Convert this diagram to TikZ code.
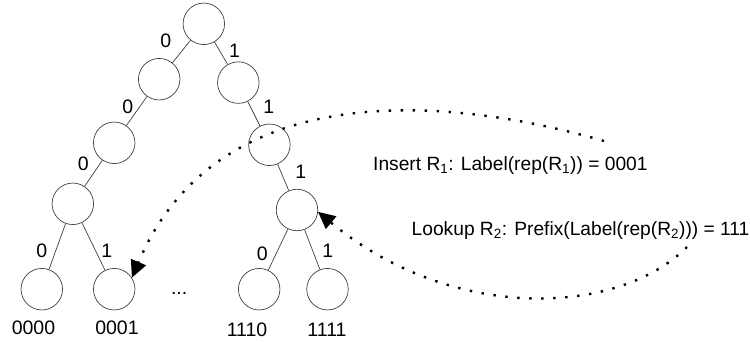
\documentclass[tikz,border=0pt]{standalone}
\usepackage{fontspec}
\setmainfont{Liberation Sans}
\usetikzlibrary{arrows.meta}
\begin{document}
\begin{tikzpicture}[x=1pt,y=-1pt,
  vnode/.style={circle,draw=black!75,line width=0.7pt,minimum size=41.5pt,inner sep=0pt},
  edge/.style={draw=black!75,line width=0.7pt},
  elab/.style={inner sep=0pt,font=\fontsize{19.5}{21}\selectfont},
  leaflab/.style={inner sep=0pt,anchor=base,font=\fontsize{19.5}{21}\selectfont},
  txt/.style={inner sep=0pt,anchor=base west,font=\fontsize{19.2}{21}\selectfont},
  dotline/.style={line width=2.4pt,dash pattern=on 2.4pt off 9.6pt,
    -{Triangle[length=17pt,width=16pt]}}]
\useasboundingbox (0,0) rectangle (750,342);
% nodes
\node[vnode] (root) at (203.8,23.8) {};
\node[vnode] (l1l) at (159.2,79.2) {};
\node[vnode] (l1r) at (238.3,82.6) {};
\node[vnode] (l2l) at (114.2,142.8) {};
\node[vnode] (l2r) at (269.4,144.8) {};
\node[vnode] (l3l) at (72.8,203.8) {};
\node[vnode] (l3r) at (297,210) {};
\node[vnode] (f0000) at (41.8,289.2) {};
\node[vnode] (f0001) at (114.2,289.2) {};
\node[vnode] (f1110) at (259.2,289.2) {};
\node[vnode] (f1111) at (327.5,289.2) {};
% edges
\draw[edge] (root) -- (l1l);
\draw[edge] (root) -- (l1r);
\draw[edge] (l1l) -- (l2l);
\draw[edge] (l1r) -- (l2r);
\draw[edge] (l2l) -- (l3l);
\draw[edge] (l2r) -- (l3r);
\draw[edge] (l3l) -- (f0000);
\draw[edge] (l3l) -- (f0001);
\draw[edge] (l3r) -- (f1110);
\draw[edge] (l3r) -- (f1111);
% edge labels
\node[elab] (e1) at (165.7,40.7) {0};
\node[elab] (e2) at (234.5,51.2) {1};
\node[elab] (e3) at (127.7,106.7) {0};
\node[elab] (e4) at (268.8,107) {1};
\node[elab] (e5) at (83.3,163.3) {0};
\node[elab] (e6) at (300.8,172) {1};
\node[elab] (e7) at (41.7,251) {0};
\node[elab] (e8) at (106.7,251) {1};
\node[elab] (e9) at (262.3,253.7) {0};
\node[elab] (e10) at (327.8,251) {1};
% leaf labels
\node[leaflab] (t0000) at (33.5,334.5) {0000};
\node[leaflab] (t0001) at (117,334.5) {0001};
\node[leaflab] (t1110) at (247,336.5) {1110};
\node[leaflab] (t1111) at (327,336.5) {1111};
\node[leaflab] (dots) at (179.2,294.5) {...};
% texts
\node[txt] (ins) at (373,170.7) {Insert R\textsubscript{1}: Label(rep(R\textsubscript{1})) = 0001};
\node[txt] (look) at (411.5,235.7) {Lookup R\textsubscript{2}: Prefix(Label(rep(R\textsubscript{2}))) = 111};
% dotted arrows
\coordinate (insStart) at (604,141);
\coordinate (lookStart) at (687,247);
\draw[dotline] (insStart) .. controls (434,92) and (215,82) .. (f0001.33);
\draw[dotline] (lookStart) .. controls (617,317) and (451,322) .. (l3r.-5);
\end{tikzpicture}
\end{document}
